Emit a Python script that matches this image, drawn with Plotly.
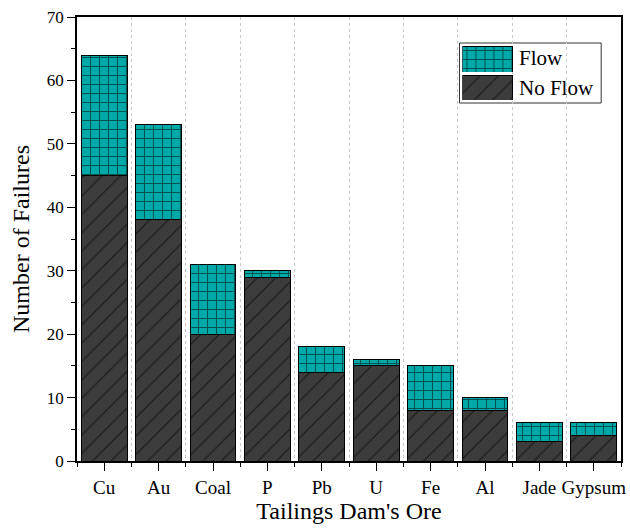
import plotly.graph_objects as go

# Tailings dam failures by ore type
ores = ["Cu", "Au", "Coal", "P", "Pb", "U", "Fe", "Al", "Jade", "Gypsum"]
no_flow = [45, 38, 20, 29, 14, 15, 8, 8, 3, 4]
flow = [19, 15, 11, 1, 4, 1, 7, 2, 3, 2]
y_ticks = [0, 10, 20, 30, 40, 50, 60, 70]

FONT = "Liberation Serif"
TEAL = "#00a8a8"
DARK = "#3c3c3c"

idx = list(range(len(ores)))

noflow_marker = dict(
    color=DARK,
    line=dict(color="black", width=1),
    pattern=dict(shape="/", fgcolor="black", bgcolor=DARK, size=13, solidity=0.1),
)
flow_marker = dict(
    color=TEAL,
    line=dict(color="black", width=1),
    pattern=dict(shape="+", fgcolor="black", bgcolor=TEAL, size=9, solidity=0.22),
)

fig = go.Figure()
fig.add_trace(go.Bar(x=idx, y=no_flow, name="No Flow", width=0.84,
                     marker=noflow_marker, showlegend=False))
fig.add_trace(go.Bar(x=idx, y=flow, name="Flow", width=0.84,
                     marker=flow_marker, showlegend=False))

# legend swatches, each on its own small inset axis
fig.add_trace(go.Bar(x=[0], y=[1], width=1, marker=flow_marker,
                     xaxis="x2", yaxis="y2", showlegend=False, hoverinfo="skip"))
fig.add_trace(go.Bar(x=[0], y=[1], width=1, marker=noflow_marker,
                     xaxis="x3", yaxis="y3", showlegend=False, hoverinfo="skip"))

W, H = 630, 528
ML, MR, MT, MB = 77, 4, 17, 67
PW, PH = W - ML - MR, H - MT - MB


def px_x(p):
    return (p - ML) / PW


def px_y(p):
    return (H - MB - p) / PH


inset = dict(visible=False, fixedrange=True)
fig.update_layout(
    width=W, height=H,
    margin=dict(l=ML, r=MR, t=MT, b=MB),
    barmode="stack",
    plot_bgcolor="white",
    paper_bgcolor="white",
    font=dict(family=FONT, color="black"),
    xaxis=dict(
        range=[-0.5, len(ores) - 0.5],
        tickmode="array", tickvals=idx, ticktext=ores,
        ticks="outside", ticklen=8, tickwidth=1.2, tickcolor="black",
        tickfont=dict(size=19, family=FONT),
        showgrid=False, zeroline=False,
        showline=True, linecolor="black", linewidth=1.5, mirror=True,
        minor=dict(tickmode="linear", tick0=0.5, dtick=1, ticks="outside",
                   ticklen=4, tickwidth=1.2, tickcolor="black",
                   showgrid=True, gridcolor="#c8c8c8", griddash="dot", gridwidth=1),
        title=dict(text="Tailings Dam's Ore", font=dict(size=24, family=FONT), standoff=0),
    ),
    yaxis=dict(
        range=[0, 70],
        tickmode="array", tickvals=y_ticks,
        ticks="outside", ticklen=8, tickwidth=1.2, tickcolor="black",
        tickfont=dict(size=17, family=FONT),
        showgrid=False, zeroline=False,
        showline=True, linecolor="black", linewidth=1.5, mirror=True,
        minor=dict(tickmode="linear", tick0=0, dtick=5, ticks="outside",
                   ticklen=4, tickwidth=1.2, tickcolor="black", showgrid=False),
        title=dict(text="Number of Failures", font=dict(size=24, family=FONT), standoff=10),
    ),
    xaxis2=dict(domain=[px_x(466), px_x(517)], range=[-0.5, 0.5], anchor="y2", **inset),
    yaxis2=dict(domain=[px_y(72), px_y(46)], range=[0, 1], anchor="x2", **inset),
    xaxis3=dict(domain=[px_x(466), px_x(517)], range=[-0.5, 0.5], anchor="y3", **inset),
    yaxis3=dict(domain=[px_y(100), px_y(75)], range=[0, 1], anchor="x3", **inset),
    shapes=[dict(type="rect", xref="paper", yref="paper",
                 x0=px_x(463), x1=px_x(606), y0=px_y(103), y1=px_y(43),
                 line=dict(color="#333333", width=1), fillcolor="white", layer="between")],
    annotations=[
        dict(text="Flow", xref="paper", yref="paper", x=px_x(521), y=px_y(58),
             xanchor="left", yanchor="middle", showarrow=False, font=dict(size=21, family=FONT)),
        dict(text="No Flow", xref="paper", yref="paper", x=px_x(521), y=px_y(88),
             xanchor="left", yanchor="middle", showarrow=False, font=dict(size=21, family=FONT)),
    ],
)

fig.write_html("out.html")
